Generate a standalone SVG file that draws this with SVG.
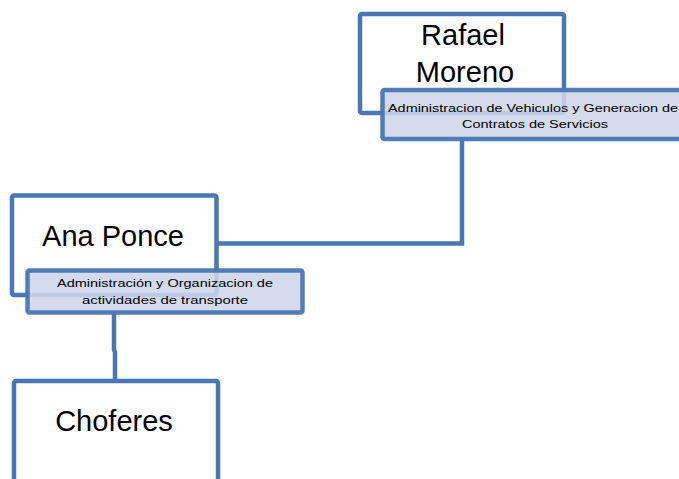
<svg xmlns="http://www.w3.org/2000/svg" width="679" height="479" viewBox="0 0 679 479">
<style>
.box{fill:#ffffff;stroke:#4a76b2;stroke-width:4.5}
.lbl{fill:#cdd6ea;fill-opacity:0.88;stroke:#4a76b2;stroke-width:4.5;stroke-opacity:0.95}
.conn{fill:none;stroke:#4a76b2;stroke-width:4.5}
.big{font-family:"Liberation Sans",Arial,sans-serif;font-size:29px;fill:#000;text-anchor:middle}
.small{font-family:"Liberation Sans",Arial,sans-serif;font-size:11.5px;fill:#000;text-anchor:middle}
</style>
<rect width="679" height="479" fill="#ffffff"/>
<g id="connectors">
<path class="conn" d="M462,139 V243.5 H216"/>
<path class="conn" d="M114,312 V350 L115,352 V381"/>
</g>
<g id="rafael">
<rect class="box" x="360" y="14" width="204" height="99" rx="2"/>
<text class="big" x="463" y="45">Rafael</text>
<text class="big" x="465" y="82">Moreno</text>
</g>
<g id="rafael-label">
<rect class="lbl" x="382.5" y="90" width="310" height="49" rx="2"/>
<text class="small" x="533" y="112" textLength="290" lengthAdjust="spacingAndGlyphs">Administracion de Vehiculos y Generacion de</text>
<text class="small" x="535" y="128" textLength="146" lengthAdjust="spacingAndGlyphs">Contratos  de Servicios</text>
</g>
<g id="ana">
<rect class="box" x="12" y="195.5" width="204.5" height="99.5" rx="2"/>
<text class="big" x="113" y="246">Ana Ponce</text>
</g>
<g id="ana-label">
<rect class="lbl" x="27.5" y="270.5" width="275" height="42" rx="2"/>
<text class="small" x="165" y="287" textLength="216" lengthAdjust="spacingAndGlyphs">Administración y Organizacion de</text>
<text class="small" x="165" y="304" textLength="166" lengthAdjust="spacingAndGlyphs">actividades de transporte</text>
</g>
<g id="choferes">
<rect class="box" x="14" y="381" width="204" height="110" rx="2"/>
<text class="big" x="114" y="431">Choferes</text>
</g>
</svg>
